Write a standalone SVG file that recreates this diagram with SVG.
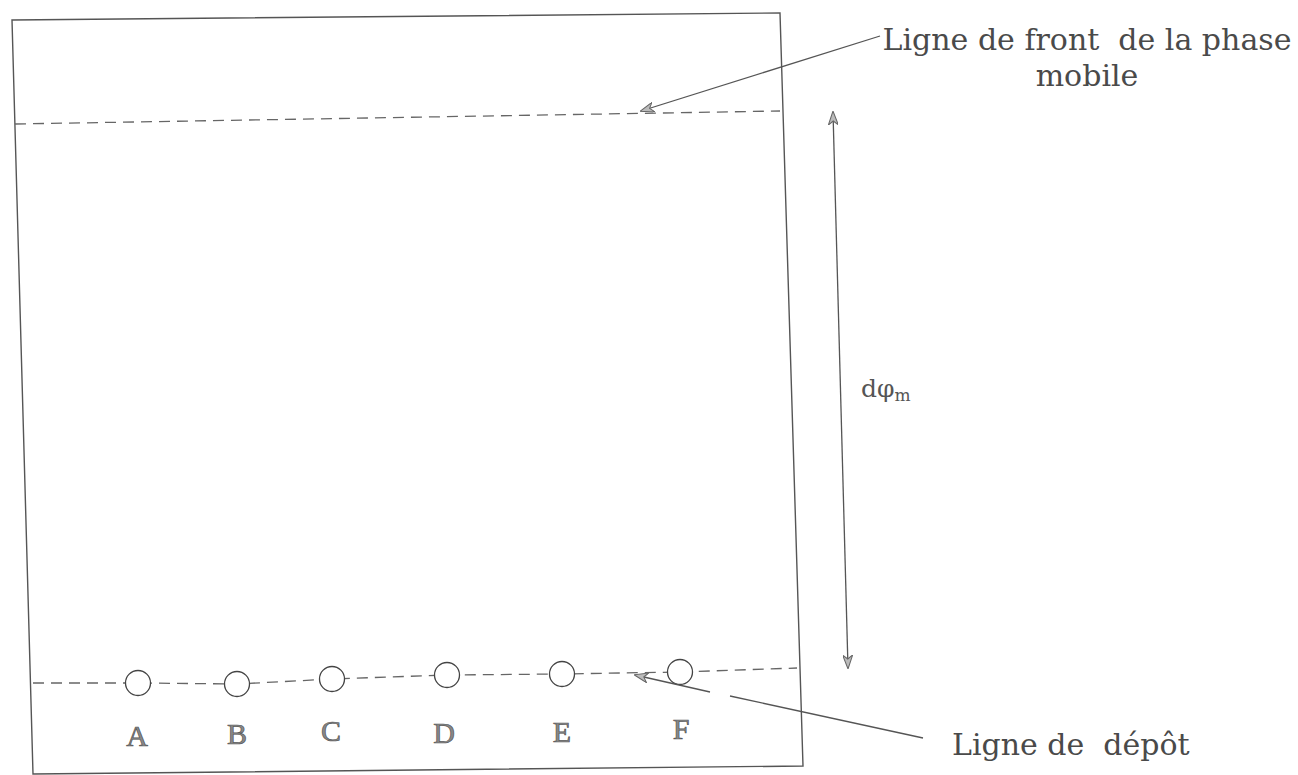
<svg xmlns="http://www.w3.org/2000/svg" width="1298" height="775" viewBox="0 0 1298 775">
  <defs>
    <style>
      .plate { fill: none; stroke: #555; stroke-width: 1.4; }
      .dash { fill: none; stroke: #666; stroke-width: 1.3; stroke-dasharray: 11 7; }
      .spot { fill: #fff; stroke: #444; stroke-width: 1.3; }
      .lbl { font-family: "Liberation Serif", "DejaVu Serif", serif; font-size: 30px; fill: #888; stroke: #555; stroke-width: 0.7; text-anchor: middle; }
      .txt { font-family: "DejaVu Serif", "Liberation Serif", serif; font-size: 30px; fill: #4a4a4a; white-space: pre; }
      .conn { fill: none; stroke: #555; stroke-width: 1.3; }
    </style>
    <marker id="ah" viewBox="0 0 14 10" refX="13" refY="5" markerWidth="14" markerHeight="10" markerUnits="userSpaceOnUse" orient="auto-start-reverse">
      <path d="M0,0 L14,5 L0,10 L4,5 Z" fill="#bbb" stroke="#666" stroke-width="1"/>
    </marker>
  </defs>

  <rect width="1298" height="775" fill="#fff"/>

  <g id="plate">
    <polygon class="plate" points="12,20 780,13 803,766 33,774"/>
  </g>

  <g id="front-line">
    <line class="dash" x1="15" y1="124" x2="780" y2="111"/>
  </g>

  <g id="deposit-line">
    <polyline class="dash" points="33,683 138,683 237,684 332,679 447,675 562,674 680,672 797,668"/>
  </g>

  <g id="spot-A"><circle class="spot" cx="138" cy="683" r="12.5"/><text class="lbl" x="137" y="746">A</text></g>
  <g id="spot-B"><circle class="spot" cx="237" cy="684" r="12.5"/><text class="lbl" x="237" y="744">B</text></g>
  <g id="spot-C"><circle class="spot" cx="332" cy="679" r="12.5"/><text class="lbl" x="331" y="741">C</text></g>
  <g id="spot-D"><circle class="spot" cx="447" cy="675" r="12.5"/><text class="lbl" x="444" y="743">D</text></g>
  <g id="spot-E"><circle class="spot" cx="562" cy="674" r="12.5"/><text class="lbl" x="562" y="742">E</text></g>
  <g id="spot-F"><circle class="spot" cx="680" cy="672" r="12.5"/><text class="lbl" x="681" y="739">F</text></g>

  <g id="label-front">
    <text class="txt" x="1087" y="50" text-anchor="middle" xml:space="preserve">Ligne de front  de la phase</text>
    <text class="txt" x="1087" y="86" text-anchor="middle">mobile</text>
  </g>

  <g id="label-depot">
    <text class="txt" x="952" y="755" xml:space="preserve">Ligne de  dépôt</text>
  </g>

  <g id="label-d">
    <text x="861" y="397" font-family="DejaVu Serif, Liberation Serif, serif" font-size="25" fill="#555">dφ<tspan font-size="17" dy="4">m</tspan></text>
  </g>

  <g id="connectors">
    <line class="conn" x1="880" y1="36" x2="641" y2="111" marker-end="url(#ah)"/>
    <line class="conn" x1="923" y1="738" x2="730" y2="696"/>
    <line class="conn" x1="710" y1="692" x2="635" y2="675" marker-end="url(#ah)"/>
    <line class="conn" x1="833" y1="112" x2="848" y2="668" marker-start="url(#ah)" marker-end="url(#ah)"/>
  </g>
</svg>
